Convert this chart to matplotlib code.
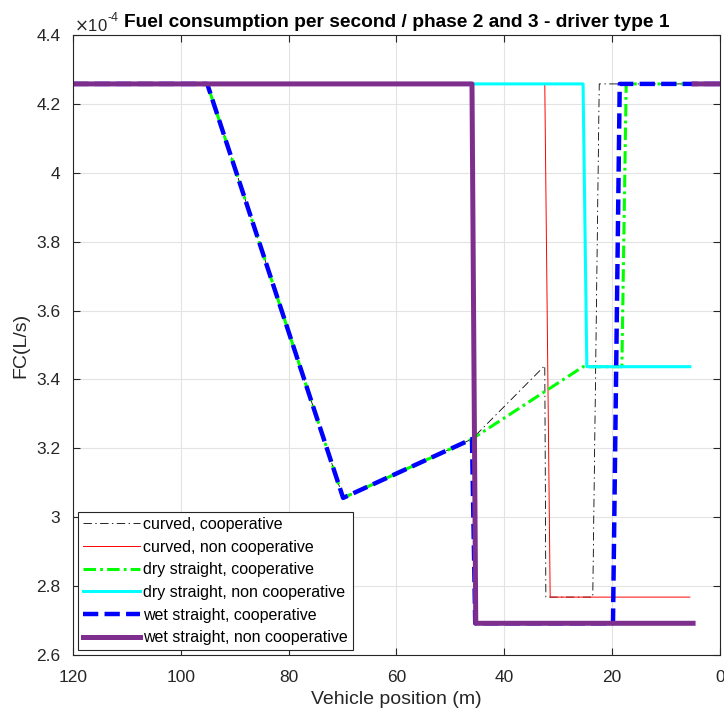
import numpy as np
import matplotlib.pyplot as plt
from matplotlib.ticker import FuncFormatter, MultipleLocator

plt.rcParams['font.family'] = ['Liberation Sans', 'DejaVu Sans']
plt.rcParams['lines.scale_dashes'] = False

# Fuel consumption (L/s) vs vehicle position (m)
nan = np.nan
curved_coop_x = [120, 95.1, 69.9, 46.0, 32.5, 32.3, 23.6, 22.4, 0]
curved_coop_y = [4.258e-4, 4.258e-4, 3.056e-4, 3.227e-4, 3.44e-4, 2.768e-4, 2.768e-4, 4.258e-4, 4.258e-4]

curved_noncoop_x = [120, 32.5, 31.5, 5.6]
curved_noncoop_y = [4.258e-4, 4.258e-4, 2.768e-4, 2.768e-4]

dry_coop_x = [120, 95.1, 69.9, 46.0, 25.4, 18.2, 17.4, 0]
dry_coop_y = [4.258e-4, 4.258e-4, 3.056e-4, 3.227e-4, 3.437e-4, 3.437e-4, 4.258e-4, 4.258e-4]

dry_noncoop_x = [120, 25.4, 24.7, 5.6]
dry_noncoop_y = [4.258e-4, 4.258e-4, 3.437e-4, 3.437e-4]

wet_coop_x = [120, 95.1, 69.9, 46.0, 45.4, 19.85, 18.6, 0]
wet_coop_y = [4.258e-4, 4.258e-4, 3.056e-4, 3.227e-4, 2.692e-4, 2.692e-4, 4.258e-4, 4.258e-4]

wet_noncoop_x = [120, 46.0, 45.3, 5.0, nan, 4.8, 0]
wet_noncoop_y = [4.258e-4, 4.258e-4, 2.692e-4, 2.692e-4, nan, 4.258e-4, 4.258e-4]

labels = ['curved, cooperative', 'curved, non cooperative', 'dry straight, cooperative',
          'dry straight, non cooperative', 'wet straight, cooperative', 'wet straight, non cooperative']

fig = plt.figure(figsize=(7.24, 7.10), dpi=100)
ax = fig.add_axes([0.1008, 0.0775, 0.8937, 0.8732])

ax.plot(curved_coop_x, curved_coop_y, color='black', lw=0.6, dashes=(6, 2.5, 1, 2.5), label=labels[0])
ax.plot(curved_noncoop_x, curved_noncoop_y, color='red', lw=0.7, label=labels[1])
ax.plot(dry_coop_x, dry_coop_y, color=(0, 1, 0), lw=2.2, dashes=(9, 3, 2, 3), label=labels[2])
ax.plot(dry_noncoop_x, dry_noncoop_y, color=(0, 1, 1), lw=2.2, label=labels[3])
ax.plot(wet_coop_x, wet_coop_y, color=(0, 0, 1), lw=3.2, dashes=(11, 4.5), label=labels[4])
ax.plot(wet_noncoop_x, wet_noncoop_y, color=(0.494, 0.184, 0.557), lw=3.6, label=labels[5])

ax.set_xlim(120, 0)
ax.set_ylim(2.6e-4, 4.4e-4)
ax.xaxis.set_major_locator(MultipleLocator(20))
ax.yaxis.set_major_locator(MultipleLocator(0.2e-4))
ax.yaxis.set_major_formatter(FuncFormatter(lambda v, p: '%g' % round(v / 1e-4, 4)))

ax.grid(True, color='#e3e3e3', lw=0.8)
ax.set_axisbelow(True)
for s in ax.spines.values():
    s.set_color('#262626')
    s.set_linewidth(0.8)
ax.tick_params(direction='in', top=True, right=True, labelsize=12.5, colors='#262626',
               length=5, width=0.8)
ax.tick_params(axis='x', pad=11)
ax.tick_params(axis='y', pad=9)

ax.set_xlabel('Vehicle position (m)', fontsize=14, color='#262626', labelpad=4)
ax.set_ylabel('FC(L/s)', fontsize=14, color='#262626', labelpad=5)
ax.set_title('Fuel consumption per second / phase 2 and 3 - driver type 1',
             fontsize=13.8, fontweight='bold', pad=6)

# exponent label, MATLAB style
t1 = ax.text(0.001, 1.007, r'$\times$10', transform=ax.transAxes, fontsize=12,
             color='#262626', ha='left', va='baseline')
ax.annotate('-4', xy=(1.0, 0.62), xycoords=t1, fontsize=9, color='#262626',
            ha='left', va='bottom')

leg = ax.legend(loc='lower left', fontsize=11.5, handlelength=3.6, handletextpad=0.2,
                labelspacing=0.48, borderpad=0.3, borderaxespad=0.3, fancybox=False,
                framealpha=1, edgecolor='#262626')
leg.get_frame().set_linewidth(0.8)

fig.savefig('out.png', dpi=100)
